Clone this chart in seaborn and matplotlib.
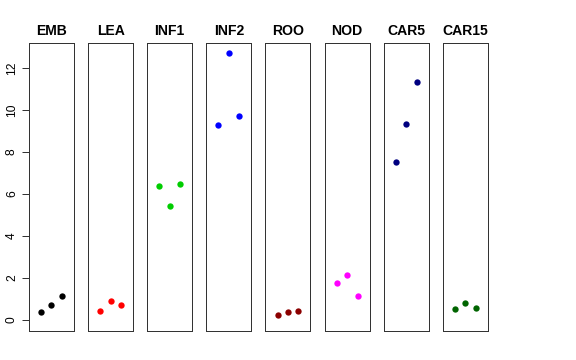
import pandas as pd
import matplotlib
matplotlib.use('Agg')
import matplotlib.pyplot as plt
import seaborn as sns

# stages and their three replicate values
stages = ['EMB', 'LEA', 'INF1', 'INF2', 'ROO', 'NOD', 'CAR5', 'CAR15']
emb = [0.40, 0.71, 1.16]
lea = [0.44, 0.90, 0.73]
inf1 = [6.40, 5.44, 6.49]
inf2 = [9.29, 12.71, 9.70]
roo = [0.22, 0.38, 0.44]
nod = [1.78, 2.16, 1.14]
car5 = [7.54, 9.35, 11.32]
car15 = [0.52, 0.81, 0.59]
replicate = [1, 2, 3]
colours = ['#000000', '#FF0000', '#00CD00', '#0000FF', '#8B0000', '#FF00FF', '#000080', '#006400']
yticks = [0, 2, 4, 6, 8, 10, 12]

values = [emb, lea, inf1, inf2, roo, nod, car5, car15]
df = pd.concat([pd.DataFrame({'stage': s, 'rep': replicate, 'expr': v}) for s, v in zip(stages, values)])

sns.set_style('white')
plt.rcParams['font.family'] = ['Liberation Sans', 'DejaVu Sans']
plt.rcParams['text.color'] = 'black'
plt.rcParams['ytick.color'] = 'black'

fig, axes = plt.subplots(1, 8, figsize=(8, 5), dpi=72, sharey=True)
fig.subplots_adjust(left=0.0503, right=0.847, top=0.8806, bottom=0.0806, wspace=0.314)

for ax, s, c in zip(axes, stages, colours):
    sns.scatterplot(data=df[df.stage == s], x='rep', y='expr', color=c, s=40, linewidth=0, ax=ax)
    ax.set_xlim(-0.16, 4.16)
    ax.set_ylim(-0.52, 13.2)
    ax.set_title(s, fontsize=14, fontweight='bold', pad=8, color='black')
    ax.set_xlabel('')
    ax.set_ylabel('')
    ax.set_xticks([])
    for sp in ax.spines.values():
        sp.set_visible(True)
        sp.set_color('#333333')
        sp.set_linewidth(1)

axes[0].set_yticks(yticks)
axes[0].set_yticklabels([str(t) for t in yticks], rotation=90, va='center', fontsize=12, color='black')
axes[0].tick_params(axis='y', left=True, length=7, width=1, pad=4, color='#333333')
for ax in axes[1:]:
    ax.tick_params(axis='y', left=False, labelleft=False)

fig.savefig('out.png', dpi=72)
